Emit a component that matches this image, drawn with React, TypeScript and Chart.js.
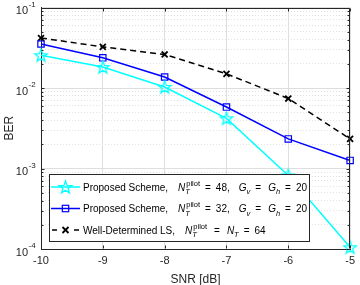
import React, { useEffect, useRef } from 'react';
import { Chart, registerables } from 'chart.js';

Chart.register(...registerables);

// ---------------- data ----------------
const snrDb = [-10, -9, -8, -7, -6, -5];
const berProposed48 = [0.0255, 0.0182, 0.0103, 0.0042, 0.00082, 0.000105];
const berProposed32 = [0.0352, 0.0237, 0.0137, 0.0058, 0.00233, 0.00126];
const berWellDetLS = [0.0418, 0.0324, 0.0261, 0.0150, 0.0074, 0.00233];

const xTickValues = [-10, -9, -8, -7, -6, -5];
const yMajorExponents = [-1, -2, -3, -4];
const xAxisTitle = 'SNR [dB]';
const yAxisTitle = 'BER';

const legendNames = ['Proposed Scheme,', 'Proposed Scheme,', 'Well-Determined LS,'];
const legendPilots = [48, 32, 64];
const legendGrid = [20, 20];

// ---------------- style ----------------
const FONT = '"Liberation Sans", Arial, Helvetica, sans-serif';
const AXIS_COLOR = '#262626';
const GRID_MAJOR = '#dedede';
const GRID_MINOR = '#e2e2e2';
const CYAN = '#00ffff';
const BLUE = '#0000ff';
const BLACK = '#000000';

function buildYTicks(): number[] {
  const minE = Math.min(...yMajorExponents);
  const maxE = Math.max(...yMajorExponents);
  const out: number[] = [];
  for (let e = minE; e < maxE; e++) {
    for (let m = 1; m <= 9; m++) out.push(m * Math.pow(10, e));
  }
  out.push(Math.pow(10, maxE));
  return out;
}
const yTickValues = buildYTicks();

function isMajor(v: number | undefined): boolean {
  if (v === undefined || v <= 0) return true;
  const l = Math.log10(v);
  return Math.abs(l - Math.round(l)) < 1e-6;
}

function drawStarPath(ctx: CanvasRenderingContext2D, cx: number, cy: number, R: number) {
  const r = R * 0.4;
  ctx.beginPath();
  for (let i = 0; i < 10; i++) {
    const rad = i % 2 === 0 ? R : r;
    const a = -Math.PI / 2 + (i * Math.PI) / 5;
    const px = cx + rad * Math.cos(a);
    const py = cy + rad * Math.sin(a);
    if (i === 0) ctx.moveTo(px, py);
    else ctx.lineTo(px, py);
  }
  ctx.closePath();
}

function makeStarCanvas(): HTMLCanvasElement {
  const c = document.createElement('canvas');
  c.width = 16;
  c.height = 16;
  const g = c.getContext('2d')!;
  g.strokeStyle = CYAN;
  g.lineWidth = 1.3;
  g.lineJoin = 'miter';
  drawStarPath(g, 8, 8.6, 6.7);
  g.stroke();
  return c;
}

type Piece =
  | { k: 'text'; t: string }
  | { k: 'ital'; t: string }
  | { k: 'sub'; t: string }
  | { k: 'supsub'; sup: string; sub: string }
  | { k: 'gap'; w: number };

function eq(pre: number, post: number): Piece[] {
  return [{ k: 'gap', w: pre }, { k: 'text', t: '=' }, { k: 'gap', w: post }];
}

function legendRow(i: number): Piece[] {
  const head: Piece[] = [
    { k: 'text', t: legendNames[i] },
    { k: 'gap', w: 10 },
    { k: 'ital', t: 'N' },
    { k: 'gap', w: 0.5 },
    { k: 'supsub', sup: 'pilot', sub: 'T' },
  ];
  if (i < 2) {
    return head.concat(
      eq(5, 5),
      [
        { k: 'text', t: legendPilots[i] + ',' },
        { k: 'gap', w: 9 },
        { k: 'ital', t: 'G' },
        { k: 'sub', t: 'v' },
      ],
      eq(5, 7),
      [
        { k: 'ital', t: 'G' },
        { k: 'sub', t: 'h' },
      ],
      eq(5, 5),
      [{ k: 'text', t: String(legendGrid[i]) }],
    );
  }
  return head.concat(
    eq(7, 7),
    [
      { k: 'ital', t: 'N' },
      { k: 'sub', t: 'T' },
    ],
    eq(5, 5),
    [{ k: 'text', t: String(legendPilots[i]) }],
  );
}

const MAIN_PX = 10;
const SMALL_PX = 7.5;

function drawPieces(ctx: CanvasRenderingContext2D, x0: number, base: number, pieces: Piece[]) {
  let x = x0;
  ctx.textBaseline = 'alphabetic';
  ctx.textAlign = 'left';
  ctx.fillStyle = BLACK;
  for (const p of pieces) {
    if (p.k === 'gap') {
      x += p.w;
    } else if (p.k === 'text') {
      ctx.font = `${MAIN_PX}px ${FONT}`;
      ctx.fillText(p.t, x, base);
      x += ctx.measureText(p.t).width;
    } else if (p.k === 'ital') {
      ctx.font = `italic ${MAIN_PX}px ${FONT}`;
      ctx.fillText(p.t, x, base);
      x += ctx.measureText(p.t).width;
    } else if (p.k === 'sub') {
      ctx.font = `italic ${SMALL_PX}px ${FONT}`;
      ctx.fillText(p.t, x, base + 3.5);
      x += ctx.measureText(p.t).width;
    } else if (p.k === 'supsub') {
      ctx.font = `${SMALL_PX}px ${FONT}`;
      ctx.fillText(p.sup, x + 0.5, base - 5);
      const w1 = ctx.measureText(p.sup).width + 0.5;
      ctx.font = `italic ${SMALL_PX}px ${FONT}`;
      ctx.fillText(p.sub, x - 0.5, base + 3.5);
      const w2 = ctx.measureText(p.sub).width;
      x += Math.max(w1, w2);
    }
  }
}

const overlayPlugin = {
  id: 'matlabOverlay',
  afterDraw(chart: any) {
    const ctx: CanvasRenderingContext2D = chart.ctx;
    const area = chart.chartArea;
    const xs = chart.scales.x;
    const ys = chart.scales.y;
    ctx.save();

    // box (top/right) and inward ticks
    ctx.strokeStyle = AXIS_COLOR;
    ctx.lineWidth = 1;
    const L = Math.round(area.left) + 0.5;
    const R = Math.round(area.right) - 0.5;
    const T = Math.round(area.top) + 0.5;
    const B = Math.round(area.bottom) - 0.5;
    ctx.beginPath();
    ctx.moveTo(L, T);
    ctx.lineTo(R, T);
    ctx.lineTo(R, B);
    ctx.stroke();

    ctx.beginPath();
    for (const v of xTickValues) {
      const px = Math.round(xs.getPixelForValue(v)) + 0.5;
      ctx.moveTo(px, B);
      ctx.lineTo(px, B - 3);
      ctx.moveTo(px, T);
      ctx.lineTo(px, T + 3);
    }
    for (const v of yTickValues) {
      const py = Math.round(ys.getPixelForValue(v)) + 0.5;
      const len = isMajor(v) ? 3 : 2;
      ctx.moveTo(L, py);
      ctx.lineTo(L + len, py);
      ctx.moveTo(R, py);
      ctx.lineTo(R - len, py);
    }
    ctx.stroke();

    // y tick labels 10^e
    ctx.fillStyle = AXIS_COLOR;
    ctx.textBaseline = 'middle';
    for (const e of yMajorExponents) {
      const py = ys.getPixelForValue(Math.pow(10, e));
      ctx.font = `11px ${FONT}`;
      ctx.textAlign = 'right';
      ctx.fillText('10', area.left - 13, py + 3.5);
      ctx.font = `8px ${FONT}`;
      ctx.textAlign = 'left';
      ctx.fillText('-' + Math.abs(e), area.left - 12.5, py - 3);
    }

    // axis titles
    ctx.font = `12px ${FONT}`;
    ctx.textAlign = 'center';
    ctx.textBaseline = 'middle';
    ctx.fillText(xAxisTitle, (area.left + area.right) / 2, 280);
    ctx.save();
    ctx.translate(10, (area.top + area.bottom) / 2);
    ctx.rotate(-Math.PI / 2);
    ctx.fillText(yAxisTitle, 0, 0);
    ctx.restore();

    // legend
    const lx = Math.round(area.left) + 8;
    const lw = 260;
    const lh = 67;
    const ly = Math.round(area.bottom) - 8 - lh;
    ctx.fillStyle = '#ffffff';
    ctx.fillRect(lx, ly, lw, lh);
    ctx.strokeStyle = AXIS_COLOR;
    ctx.lineWidth = 1;
    ctx.strokeRect(lx + 0.5, ly + 0.5, lw, lh);

    const rowBase = [ly + 16.5, ly + 38, ly + 59.5];
    const sx0 = lx + 2;
    const sx1 = lx + 31;
    const sxc = (sx0 + sx1) / 2;
    for (let i = 0; i < 3; i++) {
      const yy = rowBase[i] - 3.5;
      ctx.save();
      if (i === 0) {
        ctx.strokeStyle = CYAN;
        ctx.lineWidth = 1.5;
        ctx.beginPath();
        ctx.moveTo(sx0, yy);
        ctx.lineTo(sx1, yy);
        ctx.stroke();
        ctx.lineWidth = 1.3;
        drawStarPath(ctx, sxc, yy + 0.6, 6.7);
        ctx.stroke();
      } else if (i === 1) {
        ctx.strokeStyle = BLUE;
        ctx.lineWidth = 1.5;
        ctx.beginPath();
        ctx.moveTo(sx0, yy);
        ctx.lineTo(sx1, yy);
        ctx.stroke();
        ctx.lineWidth = 1.2;
        ctx.strokeRect(sxc - 3.2, yy - 3.2, 6.4, 6.4);
      } else {
        ctx.strokeStyle = BLACK;
        ctx.lineWidth = 1.5;
        ctx.beginPath();
        ctx.moveTo(sx0 + 1, yy);
        ctx.lineTo(sx0 + 6, yy);
        ctx.moveTo(sx1 - 6, yy);
        ctx.lineTo(sx1 - 1, yy);
        ctx.stroke();
        ctx.lineWidth = 1.8;
        ctx.beginPath();
        ctx.moveTo(sxc - 3, yy - 3);
        ctx.lineTo(sxc + 3, yy + 3);
        ctx.moveTo(sxc - 3, yy + 3);
        ctx.lineTo(sxc + 3, yy - 3);
        ctx.stroke();
      }
      ctx.restore();
      drawPieces(ctx, lx + 34, rowBase[i], legendRow(i));
    }

    ctx.restore();
  },
};

export default function App() {
  const canvasRef = useRef<HTMLCanvasElement | null>(null);

  useEffect(() => {
    const canvas = canvasRef.current;
    if (!canvas) return;
    const star = makeStarCanvas();
    const toXY = (arr: number[]) => snrDb.map((x, i) => ({ x, y: arr[i] }));

    const chart = new Chart(canvas, {
      type: 'line',
      data: {
        datasets: [
          {
            data: toXY(berProposed48),
            borderColor: CYAN,
            borderWidth: 1.5,
            pointStyle: star as any,
            pointRadius: 6,
            tension: 0,
            clip: false as any,
          },
          {
            data: toXY(berProposed32),
            borderColor: BLUE,
            borderWidth: 1.5,
            pointStyle: 'rect',
            pointRadius: 4.5,
            pointBorderWidth: 1.2,
            pointBorderColor: BLUE,
            pointBackgroundColor: 'rgba(0,0,0,0)',
            tension: 0,
            clip: false as any,
          },
          {
            data: toXY(berWellDetLS),
            borderColor: BLACK,
            borderWidth: 1.5,
            borderDash: [6, 4],
            pointStyle: 'crossRot',
            pointRadius: 4.2,
            pointBorderWidth: 1.8,
            pointBorderColor: BLACK,
            tension: 0,
            clip: false as any,
          },
        ],
      },
      options: {
        responsive: false,
        animation: false,
        events: [],
        layout: { padding: { top: 6, right: 9, left: 0, bottom: 0 } },
        plugins: { legend: { display: false }, tooltip: { enabled: false } },
        scales: {
          x: {
            type: 'linear',
            min: -10,
            max: -5,
            afterBuildTicks: (s: any) => {
              s.ticks = xTickValues.map((v) => ({ value: v }));
            },
            afterFit: (s: any) => {
              s.height = 36;
            },
            ticks: {
              autoSkip: false,
              maxRotation: 0,
              padding: 5,
              color: AXIS_COLOR,
              font: { family: FONT, size: 11 },
              callback: (v: any) => String(v),
            },
            grid: { color: GRID_MAJOR, drawTicks: false, lineWidth: 1 },
            border: { color: AXIS_COLOR, width: 1 },
          },
          y: {
            type: 'logarithmic',
            min: Math.pow(10, Math.min(...yMajorExponents)),
            max: Math.pow(10, Math.max(...yMajorExponents)),
            afterBuildTicks: (s: any) => {
              s.ticks = yTickValues.map((v) => ({ value: v, major: isMajor(v) }));
            },
            afterFit: (s: any) => {
              s.width = 41;
            },
            ticks: { display: false },
            grid: {
              drawTicks: false,
              lineWidth: 1,
              color: (c: any) => (c.tick && !isMajor(c.tick.value) ? GRID_MINOR : GRID_MAJOR),
            },
            border: {
              color: AXIS_COLOR,
              width: 1,
              dash: (c: any) => (c.tick && !isMajor(c.tick.value) ? [1, 2] : []),
            },
          },
        },
      },
      plugins: [overlayPlugin],
    } as any);

    return () => chart.destroy();
  }, []);

  return (
    <div style={{ position: 'absolute', left: 0, top: 0, width: 360, height: 285, background: '#ffffff' }}>
      <canvas ref={canvasRef} width={360} height={285} style={{ width: 360, height: 285, display: 'block' }} />
    </div>
  );
}
